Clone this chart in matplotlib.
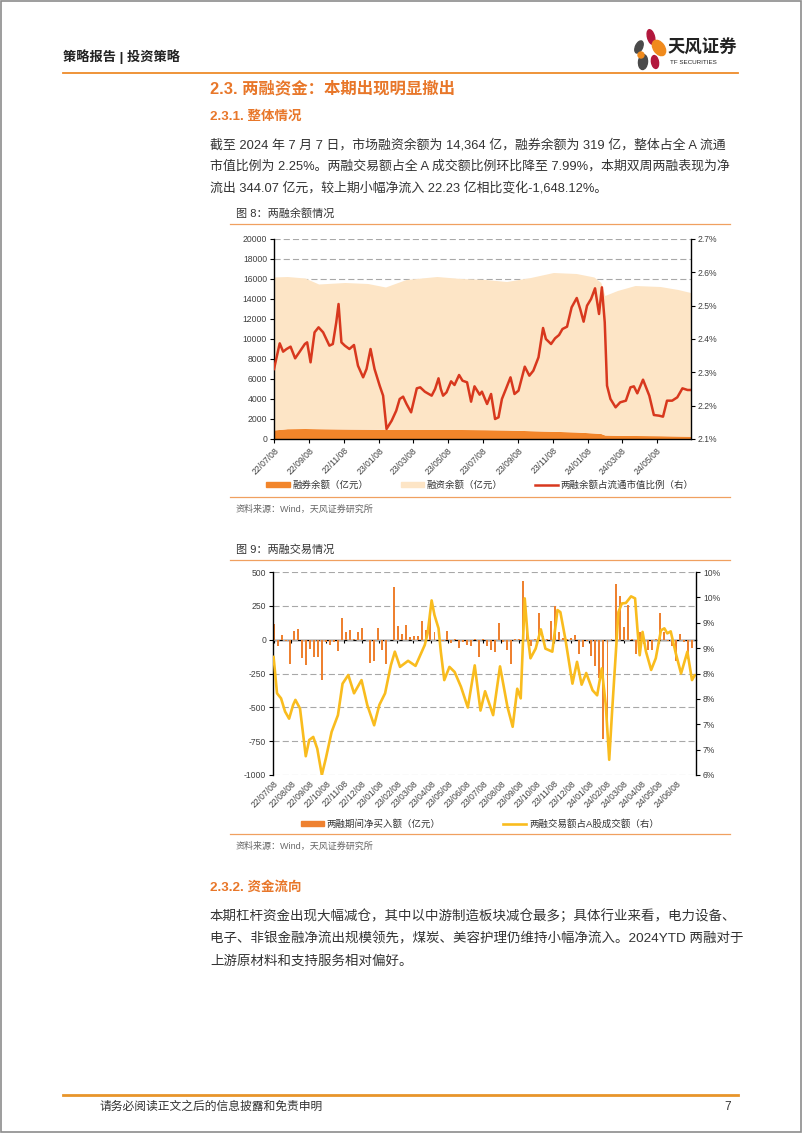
import numpy as np
import pandas as pd
import matplotlib
matplotlib.use("Agg")
import matplotlib.pyplot as plt
from matplotlib.patches import Rectangle, Ellipse, Patch
from matplotlib.lines import Line2D
from matplotlib.ticker import FuncFormatter, MultipleLocator

plt.rcParams['font.family'] = ['Liberation Sans', 'Noto Sans CJK SC']
plt.rcParams['axes.unicode_minus'] = False

W, H = 802, 1133

# ----------------------------
# Chart 1 data: margin balances
# ----------------------------
area_dates = ['2022-07-08', '2022-08-01', '2022-09-01', '2022-09-25', '2022-11-10', '2022-12-20',
              '2023-01-20', '2023-02-25', '2023-04-20', '2023-06-01', '2023-07-15', '2023-08-20',
              '2023-10-01', '2023-11-10', '2023-12-20', '2024-01-20', '2024-02-01', '2024-02-08',
              '2024-03-01', '2024-04-01', '2024-05-15', '2024-06-15', '2024-07-07']
short_bal = [850, 980, 1000, 980, 950, 930, 900, 900, 900, 900, 880, 850,
             780, 720, 650, 550, 500, 350, 320, 300, 280, 250, 230]
fin_bal = [15300, 15220, 15050, 14470, 14650, 14570, 14250, 15000, 15300, 15100, 15020, 14850,
           15320, 15880, 15850, 15600, 15100, 13950, 14480, 15000, 14920, 14650, 14370]

ratio_dates = ['2022-07-08', '2022-07-18', '2022-07-24', '2022-07-30', '2022-08-06', '2022-08-14',
               '2022-08-22', '2022-08-31', '2022-09-04', '2022-09-10', '2022-09-17', '2022-09-24',
               '2022-10-02', '2022-10-13', '2022-10-19', '2022-10-25', '2022-10-29', '2022-11-03',
               '2022-11-09', '2022-11-17', '2022-11-25', '2022-12-02', '2022-12-11', '2022-12-17',
               '2022-12-24', '2022-12-31', '2023-01-09', '2023-01-15', '2023-01-21', '2023-01-30',
               '2023-02-07', '2023-02-13', '2023-02-19', '2023-02-25', '2023-03-05', '2023-03-15',
               '2023-03-21', '2023-03-29', '2023-04-10', '2023-04-16', '2023-04-22', '2023-04-26',
               '2023-04-30', '2023-05-06', '2023-05-14', '2023-05-20', '2023-05-28', '2023-06-03',
               '2023-06-11', '2023-06-18', '2023-06-24', '2023-07-03', '2023-07-07', '2023-07-16',
               '2023-07-23', '2023-07-30', '2023-08-05', '2023-08-11', '2023-08-18', '2023-08-26',
               '2023-09-02', '2023-09-09', '2023-09-20', '2023-09-28', '2023-10-05', '2023-10-14',
               '2023-10-22', '2023-10-27', '2023-11-05', '2023-11-12', '2023-11-19', '2023-11-25',
               '2023-12-03', '2023-12-11', '2023-12-20', '2023-12-26', '2024-01-01', '2024-01-07',
               '2024-01-14', '2024-01-21', '2024-01-28', '2024-02-02', '2024-02-07', '2024-02-11',
               '2024-02-17', '2024-02-26', '2024-03-05', '2024-03-15', '2024-03-23', '2024-03-29',
               '2024-04-04', '2024-04-14', '2024-04-25', '2024-05-03', '2024-05-12', '2024-05-19',
               '2024-05-26', '2024-06-04', '2024-06-13', '2024-06-22', '2024-07-01', '2024-07-07']
ratio_vals = [2.310, 2.387, 2.362, 2.370, 2.377, 2.342, 2.362, 2.385, 2.390, 2.330, 2.420, 2.435,
              2.420, 2.380, 2.385, 2.450, 2.505, 2.390, 2.380, 2.370, 2.382, 2.320, 2.285, 2.310,
              2.370, 2.310, 2.260, 2.230, 2.130, 2.155, 2.185, 2.220, 2.227, 2.205, 2.180, 2.252,
              2.255, 2.242, 2.230, 2.250, 2.282, 2.250, 2.230, 2.240, 2.273, 2.262, 2.292, 2.275,
              2.270, 2.212, 2.258, 2.233, 2.242, 2.205, 2.235, 2.160, 2.165, 2.220, 2.250, 2.285,
              2.235, 2.245, 2.317, 2.290, 2.305, 2.345, 2.433, 2.400, 2.385, 2.402, 2.412, 2.430,
              2.437, 2.495, 2.523, 2.490, 2.452, 2.500, 2.520, 2.552, 2.475, 2.555, 2.450, 2.260,
              2.220, 2.195, 2.210, 2.215, 2.255, 2.258, 2.237, 2.278, 2.230, 2.172, 2.170, 2.167,
              2.215, 2.215, 2.225, 2.252, 2.247, 2.247]

# ----------------------------
# Chart 2 data: weekly net buy and turnover share
# ----------------------------
week_start, n_weeks = '2022-07-08', 105
net_buy = [115, -45, 35, -10, -180, 65, 80, -135, -185, -70, -125, -125, -295, -20, -40,
           -15, -85, 157, 55, 70, 5, 60, 85, -5, -175, -160, 85, -75, -180, -5,
           390, 100, 45, 105, 20, 25, 25, 140, 70, 175, 60, -5, -10, 65, -25,
           3, -60, -20, -40, -50, 5, -125, 5, -50, -75, -90, 120, -15, -80, -180,
           5, 5, 430, 65, -45, 5, 200, 30, 5, 140, 250, 55, 10, 5, 10,
           35, -105, -55, -10, -120, -195, -280, -735, -635, 5, 415, 320, 95, 255, 5,
           -105, 55, -35, -80, -80, 5, 200, 55, -10, -45, -160, 40, -20, -145, -60]

share_dates = ['2022-07-08', '2022-07-14', '2022-07-21', '2022-07-28', '2022-08-04', '2022-08-11',
               '2022-08-15', '2022-08-23', '2022-09-02', '2022-09-08', '2022-09-15', '2022-09-22',
               '2022-09-30', '2022-10-07', '2022-10-17', '2022-10-28', '2022-11-05', '2022-11-15',
               '2022-11-25', '2022-12-08', '2022-12-18', '2022-12-30', '2023-01-08', '2023-01-18',
               '2023-01-28', '2023-02-04', '2023-02-13', '2023-02-27', '2023-03-12', '2023-03-28',
               '2023-04-02', '2023-04-09', '2023-04-14', '2023-04-21', '2023-04-25', '2023-05-01',
               '2023-05-10', '2023-05-19', '2023-05-30', '2023-06-11', '2023-06-23', '2023-07-03',
               '2023-07-11', '2023-07-25', '2023-08-06', '2023-08-19', '2023-08-28', '2023-09-05',
               '2023-09-11', '2023-09-18', '2023-09-23', '2023-09-28', '2023-10-07', '2023-10-16',
               '2023-10-24', '2023-11-05', '2023-11-14', '2023-11-19', '2023-11-28', '2023-12-10',
               '2023-12-18', '2023-12-26', '2024-01-03', '2024-01-14', '2024-01-22', '2024-01-30',
               '2024-02-06', '2024-02-12', '2024-02-17', '2024-02-28', '2024-03-05', '2024-03-12',
               '2024-03-21', '2024-03-28', '2024-04-01', '2024-04-05', '2024-04-10', '2024-04-16',
               '2024-04-25', '2024-05-03', '2024-05-12', '2024-05-18', '2024-05-23', '2024-05-29',
               '2024-06-07', '2024-06-16', '2024-06-27', '2024-07-05', '2024-07-10']
share_vals = [8.33, 7.61, 7.51, 7.25, 7.11, 7.38, 7.48, 7.31, 6.37, 6.69, 6.75, 6.52,
              6.00, 6.33, 6.85, 7.18, 7.80, 7.97, 7.61, 7.87, 7.38, 6.98, 7.38, 7.61,
              8.16, 8.43, 8.13, 8.25, 8.15, 8.56, 8.79, 9.44, 9.15, 8.89, 8.43, 7.87,
              8.13, 8.03, 7.74, 7.33, 8.16, 7.27, 7.65, 7.18, 8.14, 7.34, 6.95, 7.70,
              7.51, 9.48, 8.75, 8.30, 8.49, 8.87, 8.49, 8.43, 9.25, 9.21, 8.66, 7.80,
              8.23, 7.78, 8.01, 7.67, 7.57, 8.10, 7.38, 6.30, 7.25, 9.21, 9.38, 9.39,
              9.52, 9.48, 8.89, 8.36, 8.82, 8.43, 8.07, 8.30, 8.85, 8.89, 8.79, 8.83,
              8.39, 8.00, 8.43, 7.87, 7.97]

# colours
ORANGE_TXT = '#E8772A'
ORANGE_LINE = '#F0A060'
C_SHORT = '#F2852A'
C_FIN = '#FDE5C6'
C_RATIO = '#D8381E'
C_BAR = '#EE8130'
C_SHARE = '#F9BC1E'
GRID = '#A8A8A8'
TICK_TXT = '#404040'

fig = plt.figure(figsize=(W / 100, H / 100), dpi=100)

# page layer in pixel coordinates
page = fig.add_axes([0, 0, 1, 1], zorder=0)
page.set_xlim(0, W)
page.set_ylim(H, 0)
page.axis('off')
page.add_patch(Rectangle((0.5, 0.5), W - 1.5, H - 1.5, fill=False, edgecolor='#8C8C8C', lw=1.2))

# header
page.text(63, 57, '策略报告 | 投资策略', fontsize=9.5, fontweight='bold', color='#222222', va='center')
page.plot([63, 738], [73, 73], color='#EE8B2A', lw=1.3)
for (cx, cy, w, h, ang, col) in [(639, 47, 7, 13, 25, '#4A4A4A'), (651, 37, 7, 15, -15, '#B2173C'),
                                 (659, 48, 11, 17, -35, '#F08A1C'), (643, 62, 9, 15, 5, '#4A4A4A'),
                                 (655, 62, 7, 13, -10, '#B2173C'), (641, 55, 6, 6, 0, '#F08A1C')]:
    page.add_patch(Ellipse((cx, cy), w, h, angle=ang, color=col))
page.text(668, 47, '天风证券', fontsize=12.5, fontweight='bold', color='#222222', va='center')
page.text(670, 63, 'TF SECURITIES', fontsize=4.5, color='#222222', va='center')

# section text
page.text(210, 88, '2.3. 两融资金：本期出现明显撤出', fontsize=11.8, fontweight='bold',
          color=ORANGE_TXT, va='center')
page.text(210, 117, '2.3.1. 整体情况', fontsize=9.7, fontweight='bold', color=ORANGE_TXT, va='center')
para1 = ['截至 2024 年 7 月 7 日，市场融资余额为 14,364 亿，融券余额为 319 亿，整体占全 A 流通',
         '市值比例为 2.25%。两融交易额占全 A 成交额比例环比降至 7.99%，本期双周两融表现为净',
         '流出 344.07 亿元，较上期小幅净流入 22.23 亿相比变化-1,648.12%。']
for i, line in enumerate(para1):
    page.text(210, 145 + i * 21.5, line, fontsize=9.3, color='#333333', va='center')

page.text(236, 213, '图 8：两融余额情况', fontsize=8, color='#333333', va='center')
page.plot([230, 730], [224, 224], color=ORANGE_LINE, lw=0.9)
page.plot([230, 730], [497, 497], color=ORANGE_LINE, lw=0.9)
page.text(236, 509, '资料来源：Wind，天风证券研究所', fontsize=6.5, color='#666666', va='center')

page.text(236, 550, '图 9：两融交易情况', fontsize=8, color='#333333', va='center')
page.plot([230, 730], [560, 560], color=ORANGE_LINE, lw=0.9)
page.plot([230, 730], [834, 834], color=ORANGE_LINE, lw=0.9)
page.text(236, 846, '资料来源：Wind，天风证券研究所', fontsize=6.5, color='#666666', va='center')

page.text(210, 887, '2.3.2. 资金流向', fontsize=9.7, fontweight='bold', color=ORANGE_TXT, va='center')
para2 = ['本期杠杆资金出现大幅减仓，其中以中游制造板块减仓最多；具体行业来看，电力设备、',
         '电子、非银金融净流出规模领先，煤炭、美容护理仍维持小幅净流入。2024YTD 两融对于',
         '上游原材料和支持服务相对偏好。']
for i, line in enumerate(para2):
    page.text(210, 916 + i * 22.5, line, fontsize=9.7, color='#333333', va='center')

# footer
page.plot([63, 738], [1095, 1095], color='#E8952A', lw=2)
page.text(100, 1107, '请务必阅读正文之后的信息披露和免责申明', fontsize=8.5, color='#333333', va='center')
page.text(731, 1107, '7', fontsize=8.5, color='#333333', va='center', ha='right')


def style_spines(ax, visible):
    for s in ['top', 'bottom', 'left', 'right']:
        ax.spines[s].set_visible(s in visible)
        ax.spines[s].set_color('black')
        ax.spines[s].set_linewidth(1.0)


def date_labels(ax, ticks):
    ax.set_xticks(ticks)
    ax.set_xticklabels([t.strftime('%y/%m/%d') for t in ticks], rotation=45,
                       ha='right', rotation_mode='anchor', fontsize=6.2, color=TICK_TXT)


# ----------------------------
# Chart 1
# ----------------------------
ax1 = fig.add_axes([274 / W, 1 - 439 / H, 417 / W, 200 / H], zorder=1)
ax1.stackplot(pd.to_datetime(area_dates), short_bal, fin_bal, colors=[C_SHORT, C_FIN],
              lw=0, zorder=2)
ax1.set_ylim(0, 20000)
ax1.yaxis.set_major_locator(MultipleLocator(2000))
ax1.grid(axis='y', color=GRID, lw=0.8, ls=(0, (5.5, 2.8)), zorder=1)
ax1.set_axisbelow(True)
ax1.set_xlim(pd.Timestamp('2022-07-08'), pd.Timestamp('2024-07-07'))
date_labels(ax1, pd.date_range('2022-07-08', periods=12, freq=pd.DateOffset(months=2)))
ax1.tick_params(axis='both', direction='out', length=3, width=0.8, pad=2)
ax1.tick_params(axis='y', labelsize=6.2, labelcolor=TICK_TXT)
style_spines(ax1, ['left', 'bottom'])

ax1r = ax1.twinx()
ax1r.plot(pd.to_datetime(ratio_dates), ratio_vals, color=C_RATIO, lw=1.8,
          solid_joinstyle='round')
ax1r.set_ylim(2.1, 2.7)
ax1r.yaxis.set_major_locator(MultipleLocator(0.1))
ax1r.yaxis.set_major_formatter(FuncFormatter(lambda v, p: f'{v:.1f}%'))
ax1r.tick_params(axis='y', direction='out', length=3, width=0.8, pad=2, labelsize=6.2,
                 labelcolor=TICK_TXT)
style_spines(ax1r, ['right'])

handles1 = [Patch(color=C_SHORT), Patch(color=C_FIN), Line2D([], [], color=C_RATIO, lw=1.8)]
labels1 = ['融券余额（亿元）', '融资余额（亿元）', '两融余额占流通市值比例（右）']
fig.legend(handles1, labels1, loc='center', bbox_to_anchor=(480 / W, 1 - 485 / H), ncol=3,
           frameon=False, fontsize=6.8, handlelength=2.45, handleheight=0.55,
           handletextpad=0.3, columnspacing=3.4, labelcolor='#333333')

# ----------------------------
# Chart 2
# ----------------------------
weeks = pd.date_range(week_start, periods=n_weeks, freq='7D')
ax2 = fig.add_axes([273 / W, 1 - 775 / H, 423 / W, 203 / H], zorder=1)
ax2.bar(weeks, net_buy, width=3.4, color=C_BAR, lw=0, zorder=2)
ax2.set_ylim(-1000, 500)
ax2.yaxis.set_major_locator(MultipleLocator(250))
ax2.grid(axis='y', color=GRID, lw=0.8, ls=(0, (5.5, 2.8)), zorder=1)
ax2.set_axisbelow(True)
ax2.set_xlim(pd.Timestamp('2022-07-07'), pd.Timestamp('2024-07-12'))
months = pd.date_range('2022-07-08', periods=24, freq=pd.DateOffset(months=1))
date_labels(ax2, months)
ax2.tick_params(axis='x', length=0, pad=3)
ax2.tick_params(axis='y', direction='out', length=3, width=0.8, pad=2, labelsize=6.2,
                labelcolor=TICK_TXT)
style_spines(ax2, ['left'])

# zero axis line with its own tick marks
zero_ax = ax2.secondary_xaxis(2 / 3)
zero_ax.set_xticks(months)
zero_ax.tick_params(direction='in', length=2.5, width=0.8, labeltop=False, labelbottom=False)
for s in zero_ax.spines.values():
    s.set_color('black')
    s.set_linewidth(1.0)

ax2r = ax2.twinx()
ax2r.plot(pd.to_datetime(share_dates), share_vals, color=C_SHARE, lw=1.9,
          solid_joinstyle='round', solid_capstyle='round')
ax2r.set_ylim(6, 10)
ax2r.yaxis.set_major_locator(MultipleLocator(0.5))
ax2r.yaxis.set_major_formatter(FuncFormatter(lambda v, p: f'{int(np.floor(v + 0.5 + 1e-9))}%'))
ax2r.tick_params(axis='y', direction='out', length=3, width=0.8, pad=2, labelsize=6.2,
                 labelcolor=TICK_TXT)
style_spines(ax2r, ['right'])

handles2 = [Patch(color=C_BAR), Line2D([], [], color=C_SHARE, lw=1.9)]
labels2 = ['两融期间净买入额（亿元）', '两融交易额占A股成交额（右）']
fig.legend(handles2, labels2, loc='center', bbox_to_anchor=(480 / W, 1 - 824 / H), ncol=2,
           frameon=False, fontsize=6.8, handlelength=2.45, handleheight=0.55,
           handletextpad=0.3, columnspacing=6.6, labelcolor='#333333')

fig.savefig('out.png', dpi=100)
